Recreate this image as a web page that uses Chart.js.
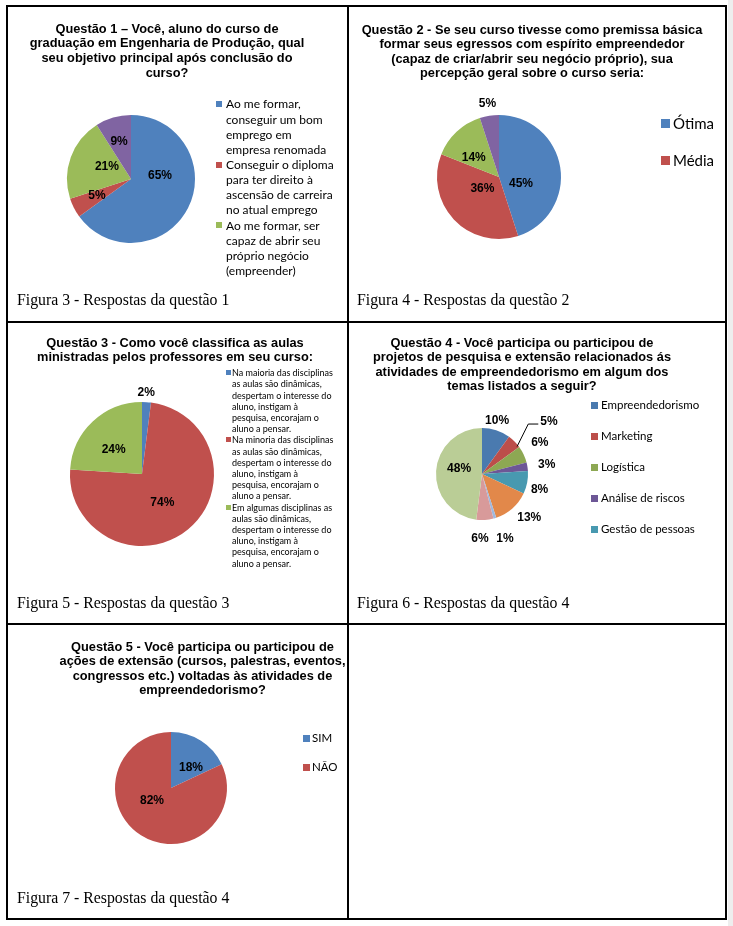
<!DOCTYPE html>
<html>
<head>
<meta charset="utf-8">
<script src="https://cdn.jsdelivr.net/npm/chart.js@4.4.1/dist/chart.umd.min.js"></script>
<style>
  body { margin: 0; background: #fff; }
  #page { position: relative; width: 733px; height: 926px; overflow: hidden; background: #fff; }
  .line { position: absolute; background: #000; }
  .strip { position: absolute; left: 728px; top: 0; width: 5px; height: 926px; background: #eeeeee; }
  .title { position: absolute; font-family: "Liberation Sans", Arial, sans-serif; font-weight: bold;
           font-size: 12.8px; line-height: 14.6px; text-align: center; color: #000;
           white-space: nowrap; transform: translateX(-50%); }
  .cap { position: absolute; font-family: "Liberation Serif", "Times New Roman", serif;
         font-size: 15.8px; line-height: 18px; color: #000; white-space: nowrap; }
  .legend { position: absolute; font-family: Lato, "Open Sans", sans-serif; color: #000; }
  .legend .item { position: relative; }
  .legend .sq { position: absolute; }
  canvas { position: absolute; }
</style>
</head>
<body>
<div id="page"></div>
<script>
// ---- data ----
const q1Categories = [
  'Ao me formar, conseguir um bom emprego em empresa renomada',
  'Conseguir o diploma para ter direito à ascensão de carreira no atual emprego',
  'Ao me formar, ser capaz de abrir seu próprio negócio (empreender)',
  ''
];
const q1Values = [65, 5, 21, 9];

const q2Categories = ['Ótima', 'Média', '', ''];
const q2Values = [45, 36, 14, 5];

const q3Categories = [
  'Na maioria das disciplinas as aulas são dinâmicas, despertam o interesse do aluno, instigam à pesquisa, encorajam o aluno a pensar.',
  'Na minoria das disciplinas as aulas são dinâmicas, despertam o interesse do aluno, instigam à pesquisa, encorajam o aluno a pensar.',
  'Em algumas disciplinas as aulas são dinâmicas, despertam o interesse do aluno, instigam à pesquisa, encorajam o aluno a pensar.'
];
const q3Values = [2, 74, 24];

const q4Categories = ['Empreendedorismo', 'Marketing', 'Logística', 'Análise de riscos', 'Gestão de pessoas', '', '', '', ''];
const q4Values = [10, 5, 6, 3, 8, 13, 1, 6, 48];

const q5Categories = ['SIM', 'NÃO'];
const q5Values = [18, 82];

const titles = [
  ['Questão 1 – Você, aluno do curso de', 'graduação em Engenharia de Produção, qual', 'seu objetivo principal após conclusão do', 'curso?'],
  ['Questão 2 - Se seu curso tivesse como premissa básica', 'formar seus egressos com espírito empreendedor', '(capaz de criar/abrir seu negócio próprio), sua', 'percepção geral sobre o curso seria:'],
  ['Questão 3 - Como você classifica as aulas', 'ministradas pelos professores em seu curso:'],
  ['Questão 4 - Você participa ou participou de', 'projetos de pesquisa e extensão relacionados ás', 'atividades de empreendedorismo em algum dos', 'temas listados a seguir?'],
  ['Questão 5 - Você participa ou participou de', 'ações de extensão (cursos, palestras, eventos,', 'congressos etc.) voltadas às atividades de', 'empreendedorismo?']
];
const captions = [
  'Figura 3 - Respostas da questão 1',
  'Figura 4 - Respostas da questão 2',
  'Figura 5 - Respostas da questão 3',
  'Figura 6 - Respostas da questão 4',
  'Figura 7 - Respostas da questão 4'
];

// ---- styles ----
const officeColors = ['#4F81BD', '#C0504D', '#9BBB59', '#8064A2'];
const q4Colors = ['#4A7AAF', '#BC4E4A', '#8DA853', '#6D5796', '#4899B0', '#E2884A', '#A0B8DD', '#D89A9A', '#BACD96'];

const page = document.getElementById('page');

function el(cls, css, html) {
  const d = document.createElement('div');
  d.className = cls;
  Object.assign(d.style, css);
  if (html !== undefined) d.innerHTML = html;
  page.appendChild(d);
  return d;
}

// table grid
el('strip', {});
[[6, 5, 1.6, 915], [347, 5, 1.7, 915], [725, 5, 1.6, 915]].forEach(([x, y, w, h]) =>
  el('line', { left: x + 'px', top: y + 'px', width: w + 'px', height: h + 'px' }));
[[5], [321], [623], [918]].forEach(([y]) =>
  el('line', { left: '6px', top: y + 'px', width: '721px', height: '1.6px' }));

// titles and captions
const titlePos = [[167, 21.8], [532, 22.5], [175, 335.5], [522, 335.5], [202.5, 639.5]];
titles.forEach((lines, i) => {
  el('title', { left: titlePos[i][0] + 'px', top: titlePos[i][1] + 'px' }, lines.join('<br>'));
});
const capPos = [[17, 291], [357, 291], [17, 594], [357, 594], [17, 889]];
captions.forEach((t, i) => el('cap', { left: capPos[i][0] + 'px', top: capPos[i][1] + 'px' }, t));

// html legends
function legend(cats, colors, count, o) {
  const box = el('legend', { left: o.x + 'px', top: o.top + 'px', fontSize: o.font + 'px' });
  for (let i = 0; i < count; i++) {
    const it = document.createElement('div');
    it.className = 'item';
    it.style.lineHeight = o.lh + 'px';
    it.style.paddingLeft = o.textOff + 'px';
    if (o.width) it.style.width = o.width + 'px';
    else it.style.whiteSpace = 'nowrap';
    if (o.step) { it.style.height = o.step + 'px'; }
    it.textContent = cats[i];
    const sq = document.createElement('span');
    sq.className = 'sq';
    Object.assign(sq.style, {
      left: '0px', top: ((o.lh - o.sq) / 2) + 'px',
      width: o.sq + 'px', height: o.sq + 'px', background: colors[i]
    });
    it.appendChild(sq);
    box.appendChild(it);
  }
}
legend(q1Categories, officeColors, 3, { x: 216, top: 96.4, font: 12, lh: 15.15, sq: 6, textOff: 10, width: 112 });
legend(q2Categories, officeColors, 2, { x: 661, top: 113.5, font: 15, lh: 19, sq: 9, textOff: 12, step: 37.5 });
legend(q3Categories, officeColors, 3, { x: 226, top: 367.1, font: 9, lh: 11.2, sq: 5, textOff: 6, width: 104 });
legend(q4Categories, q4Colors, 5, { x: 591, top: 397, font: 11.5, lh: 16, sq: 7, textOff: 10, step: 31 });
legend(q5Categories, officeColors, 2, { x: 303, top: 730, font: 11.5, lh: 16, sq: 7, textOff: 9, step: 29 });

// percentage labels placed from each arc's own geometry
const pctLabels = {
  id: 'pctLabels',
  afterDatasetsDraw(chart, args, opts) {
    const ctx = chart.ctx;
    const values = chart.data.datasets[0].data;
    ctx.save();
    ctx.font = 'bold 12px "Liberation Sans", Arial, sans-serif';
    ctx.fillStyle = '#000';
    ctx.textAlign = 'center';
    ctx.textBaseline = 'middle';
    chart.getDatasetMeta(0).data.forEach((arc, i) => {
      const p = arc.getProps(['x', 'y', 'startAngle', 'endAngle', 'outerRadius'], true);
      const mid = (p.startAngle + p.endAngle) / 2;
      const n = (opts.nudges && opts.nudges[i]) || [0, 0];
      const lx = p.x + Math.cos(mid) * p.outerRadius / 2 + n[0];
      const ly = p.y + Math.sin(mid) * p.outerRadius / 2 + n[1];
      const text = values[i] + '%';
      if (opts.leaders && opts.leaders.includes(i)) {
        const w = ctx.measureText(text).width;
        const ex = lx - w / 2 - 2, ey = ly + 2;
        ctx.beginPath();
        ctx.moveTo(p.x + Math.cos(mid + 0.12) * p.outerRadius * 0.97, p.y + Math.sin(mid + 0.12) * p.outerRadius * 0.97);
        ctx.lineTo(ex - 10, ey);
        ctx.lineTo(ex, ey);
        ctx.strokeStyle = '#000';
        ctx.lineWidth = 1;
        ctx.stroke();
      }
      ctx.fillText(text, lx, ly);
    });
    ctx.restore();
  }
};

// cell rects and pie geometry
function pie(cell, cx, cy, r, cats, values, colors, labelOpts) {
  const [x0, y0, w, h] = cell;
  const c = document.createElement('canvas');
  c.width = w; c.height = h;
  c.style.left = x0 + 'px'; c.style.top = y0 + 'px';
  c.style.width = w + 'px'; c.style.height = h + 'px';
  page.insertBefore(c, page.firstChild);
  const lx = cx - x0, ly = cy - y0;
  new Chart(c, {
    type: 'pie',
    data: {
      labels: cats,
      datasets: [{ data: values, backgroundColor: colors.slice(0, values.length), borderWidth: 0, hoverOffset: 0 }]
    },
    options: {
      responsive: false,
      animation: false,
      devicePixelRatio: 1,
      radius: r,
      layout: { padding: { left: lx - r, top: ly - r, right: w - lx - r, bottom: h - ly - r } },
      plugins: {
        legend: { display: false },
        tooltip: { enabled: false },
        title: { display: false },
        pctLabels: labelOpts
      }
    },
    plugins: [pctLabels]
  });
}

pie([8, 7, 339, 314], 131, 179, 64, q1Categories, q1Values, officeColors,
  { nudges: [[0.5, -17.5], [-5.5, 2.5], [6, -1], [-3, -7]] });
pie([349, 7, 376, 314], 499, 177, 62, q2Categories, q2Values, officeColors,
  { nudges: [[-8.6, 11.8], [6, -10], [-4, 3.5], [-6.7, -42.4]] });
pie([8, 323, 339, 300], 142, 474, 72, q3Categories, q3Values, officeColors,
  { nudges: [[2, -45.5], [-2.6, 0.6], [-3.7, 2]] });
pie([349, 323, 376, 300], 482, 474, 46, q4Categories, q4Values, q4Colors,
  { nudges: [[8, -31], [50.7, -35.7], [37, -22], [42, -5.5], [35, 11], [32, 26], [16.5, 43], [-3.4, 42], [0, -3.6]],
    leaders: [1] });
pie([8, 625, 339, 293], 171, 788, 56, q5Categories, q5Values, officeColors,
  { nudges: [[5, 3], [-4, -11]] });
</script>
</body>
</html>
